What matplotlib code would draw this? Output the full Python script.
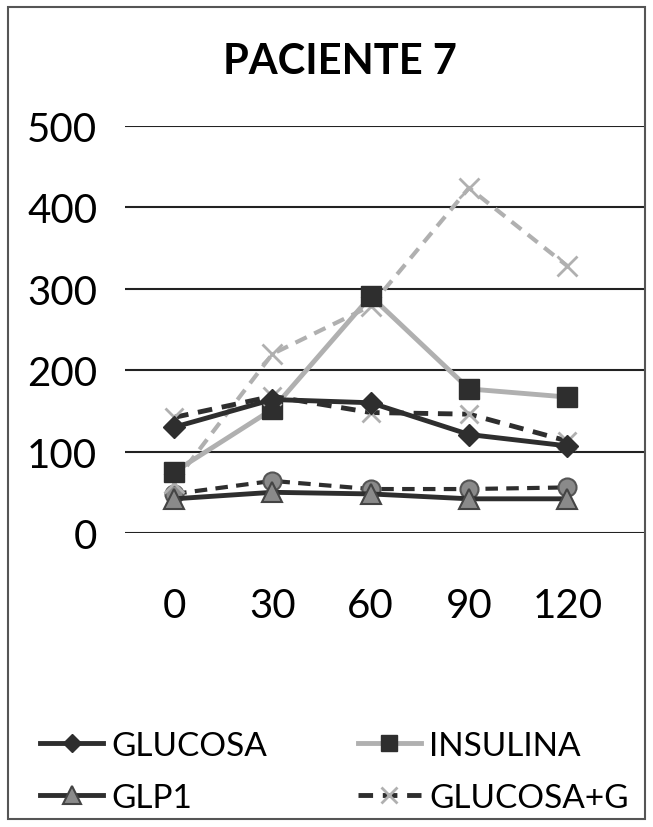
import matplotlib.pyplot as plt
from matplotlib.patches import Rectangle

plt.rcParams['font.family'] = ['Lato', 'DejaVu Sans']

# minutes after load
times = ["0", "30", "60", "90", "120"]

glucosa = [130, 164, 160, 121, 107]
insulina = [75, 152, 291, 177, 167]
glp1 = [42, 50, 48, 42, 42]
glucosa_g = [142, 168, 148, 146, 113]
insulina_g = [62, 220, 279, 424, 328]
glp1_g = [48, 64, 54, 54, 56]

fig = plt.figure(figsize=(6.53, 8.28), dpi=100)
ax = fig.add_axes([125 / 653, 1 - 534 / 828, (644 - 125) / 653, (534 - 127) / 828])

x = range(len(times))
dark = '#2e2e2e'
mid = '#8a8a8a'
light = '#b0b0b0'

# series not shown in the legend (drawn first, underneath)
ax.plot(x, glp1_g, color=dark, lw=3, ls=(0, (3, 2)), marker='o', ms=13,
        mfc=mid, mec='#555555', mew=1.5, zorder=3)
ax.plot(x, insulina_g, color=light, lw=3, ls=(0, (3, 2)), marker='x', ms=14,
        mec=light, mew=2, zorder=3)

l1, = ax.plot(x, glucosa, color=dark, lw=3.5, marker='D', ms=11,
              mfc=dark, mec=dark, zorder=5)
l2, = ax.plot(x, insulina, color=light, lw=3.5, marker='s', ms=14,
              mfc=dark, mec=dark, zorder=4)
l3, = ax.plot(x, glp1, color=dark, lw=3.5, marker='^', ms=15,
              mfc=mid, mec='#444444', mew=1.5, zorder=4)
l4, = ax.plot(x, glucosa_g, color=dark, lw=3.5, ls=(0, (3, 2)), marker='x', ms=13,
              mec=light, mew=2, zorder=4)

ax.set_ylim(0, 500)
ax.set_xlim(-0.5, 4.78)
ax.set_yticks(range(0, 501, 100))
ax.set_xticks(list(x))
ax.set_xticklabels(times)
ax.tick_params(axis='both', length=0, labelsize=29, colors='black')
ax.tick_params(axis='y', pad=20)
ax.tick_params(axis='x', pad=39)
ax.grid(axis='y', color='#222222', lw=1.5)
ax.set_axisbelow(True)
for s in ax.spines.values():
    s.set_visible(False)

fig.text(340 / 653, 1 - 62 / 828, "PACIENTE 7", ha='center', va='center',
         fontsize=30, fontweight='bold')

# row-wise order: GLUCOSA, INSULINA / GLP1, GLUCOSA+G
fig.legend([l1, l3, l2, l4], ["GLUCOSA", "GLP1", "INSULINA", "GLUCOSA+G"],
           loc='upper left', bbox_to_anchor=(40 / 653, 1 - 732 / 828), ncol=2,
           frameon=False, fontsize=24, handlelength=1.9, handletextpad=0.25,
           columnspacing=2.7, labelspacing=0.65, borderpad=0, borderaxespad=0,
           markerscale=0.85)

fig.patches.append(Rectangle((8 / 653, 1 - 820 / 828), 637 / 653, 812 / 828,
                             transform=fig.transFigure, fill=False,
                             edgecolor='#555555', lw=1.5))

fig.savefig("out.png", dpi=100)
